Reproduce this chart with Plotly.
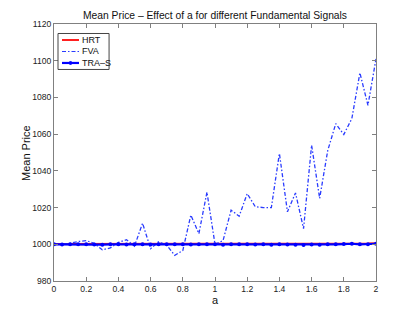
import plotly.graph_objects as go

a_vals = [round(0.05 * i, 2) for i in range(41)]

fva = [1000, 1000, 1000.5, 1001.5, 1002, 1000.5, 997, 998, 1001, 1002.5,
       999, 1011.5, 997.6, 1001.4, 999.5, 994, 996.6, 1015.9, 1005.8, 1028.4,
       1000, 1002, 1018.6, 1015.3, 1027.6, 1020.5, 1020, 1020, 1049.5, 1017.7,
       1028, 1008.5, 1054, 1025, 1051, 1065.7, 1059.8, 1068.5, 1093.4, 1075.7,
       1101]

hrt = [1000.1, 1000.1, 1000.0, 1000.1, 1000.1, 1000.0, 1000.1, 1000.0, 1000.1, 1000.1,
       1000.0, 1000.1, 1000.0, 1000.1, 1000.0, 1000.1, 1000.1, 1000.0, 1000.1, 1000.1,
       1000.1, 1000.0, 1000.1, 1000.1, 1000.2, 1000.1, 1000.1, 1000.2, 1000.2, 1000.1,
       1000.2, 1000.1, 1000.2, 1000.3, 1000.2, 1000.3, 1000.3, 1000.4, 1000.3, 1000.4,
       1000.6]

tra_s = [1000.0, 999.9, 1000.0, 1000.0, 1000.0, 999.9, 999.8, 1000.0, 1000.0, 999.9,
         1000.0, 1000.0, 999.9, 1000.0, 1000.0, 1000.0, 1000.0, 999.9, 1000.0, 1000.0,
         1000.0, 999.7, 1000.0, 1000.0, 1000.0, 999.9, 1000.0, 999.8, 1000.0, 999.9,
         999.8, 999.6, 999.9, 999.8, 1000.0, 1000.0, 1000.1, 1000.3, 1000.0, 1000.0,
         1000.3]

series_names = ["HRT", "FVA", "TRA–S"]
series_colors = ["#ff2020", "#2a3cff", "#0000ff"]

x_ticks = [0, 0.2, 0.4, 0.6, 0.8, 1, 1.2, 1.4, 1.6, 1.8, 2]
x_tick_labels = ["0", "0.2", "0.4", "0.6", "0.8", "1", "1.2", "1.4", "1.6", "1.8", "2"]
y_ticks = [980, 1000, 1020, 1040, 1060, 1080, 1100, 1120]

FONT = "Liberation Sans, Arial, Helvetica, sans-serif"
FVA_DASH = "4px,2px,1.5px,2px"

fig = go.Figure()
fig.add_trace(go.Scatter(x=a_vals, y=hrt, name=series_names[0], mode="lines",
                         line=dict(color=series_colors[0], width=2)))
fig.add_trace(go.Scatter(x=a_vals, y=fva, name=series_names[1], mode="lines",
                         line=dict(color=series_colors[1], width=1.3, dash=FVA_DASH)))
fig.add_trace(go.Scatter(x=a_vals, y=tra_s, name=series_names[2], mode="lines+markers",
                         line=dict(color=series_colors[2], width=2.2),
                         marker=dict(color=series_colors[2], size=4, symbol="circle")))

axis_common = dict(showgrid=False, zeroline=False, showline=True, linecolor="#808080",
                   linewidth=1, mirror="ticks", ticks="inside", ticklen=4,
                   tickcolor="#808080", automargin=False,
                   tickfont=dict(family=FONT, size=8.6, color="#222"))

# plot area in page pixels (page has an 8px body offset)
PX0, PX1, PY0, PY1 = 54.0, 375.6, 23.5, 280.7


def px(x):
    return (x - PX0) / (PX1 - PX0)


def py(y):
    return 1 - (y - PY0) / (PY1 - PY0)


shapes = [dict(type="rect", xref="paper", yref="paper",
               x0=px(58), x1=px(109), y0=py(33), y1=py(69),
               line=dict(color="#444", width=1), fillcolor="white", layer="above")]
annotations = []
row_y = [39.5, 51, 62.5]
dashes = ["solid", FVA_DASH, "solid"]
widths = [2, 1.2, 2.2]
for name, color, ry, d, w in zip(series_names, series_colors, row_y, dashes, widths):
    shapes.append(dict(type="line", xref="paper", yref="paper",
                       x0=px(62), x1=px(79), y0=py(ry), y1=py(ry),
                       line=dict(color=color, width=w, dash=d), layer="above"))
    annotations.append(dict(text=name, xref="paper", yref="paper", x=px(80), y=py(ry),
                            xanchor="left", yanchor="middle", showarrow=False,
                            font=dict(family=FONT, size=9, color="#111")))
shapes.append(dict(type="circle", xref="paper", yref="paper",
                   x0=px(69), x1=px(72), y0=py(row_y[2] - 1.5), y1=py(row_y[2] + 1.5),
                   fillcolor=series_colors[2], line=dict(color=series_colors[2], width=1),
                   layer="above"))

# y-axis title placed like the reference
annotations.append(dict(text="Mean Price", xref="paper", yref="paper",
                        x=px(25.5), y=0.5, xanchor="center", yanchor="middle",
                        textangle=-90, showarrow=False,
                        font=dict(family=FONT, size=11, color="#111")))

fig.update_layout(
    width=407, height=308,
    margin=dict(l=46, r=39, t=16, b=35, pad=0),
    paper_bgcolor="white", plot_bgcolor="white",
    title=dict(text="Mean Price – Effect of a for different Fundamental Signals",
               x=0.5, xref="paper", xanchor="center", y=0.977, yanchor="middle",
               pad=dict(t=0, b=0),
               font=dict(family=FONT, size=10.3, color="#111")),
    xaxis=dict(range=[0, 2], tickvals=x_ticks, ticktext=x_tick_labels,
               title=dict(text="a", font=dict(family=FONT, size=11, color="#111"), standoff=1),
               **axis_common),
    yaxis=dict(range=[980, 1120], tickvals=y_ticks, **axis_common),
    shapes=shapes,
    annotations=annotations,
    showlegend=False,
)

fig.write_html("out.html")
